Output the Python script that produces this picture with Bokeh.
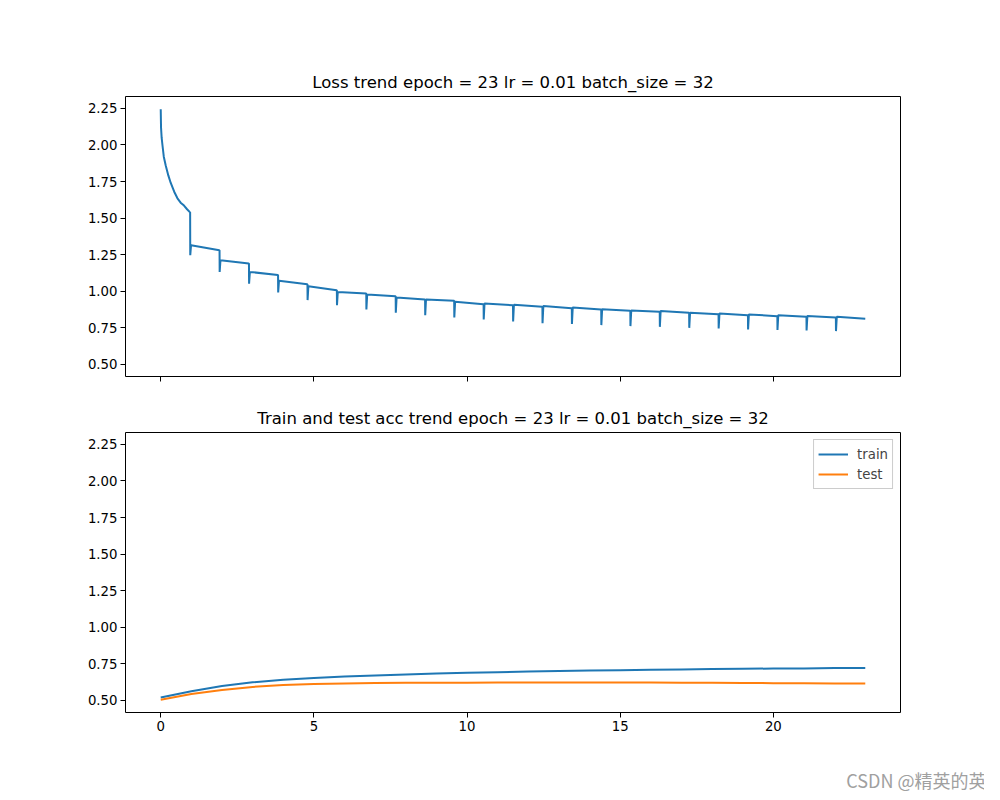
from bokeh.plotting import figure
from bokeh.layouts import column
from bokeh.models import (Range1d, FixedTicker, PrintfTickFormatter, CustomJSTickFormatter,
                          Title, Legend, LegendItem)
from bokeh.embed import file_html
from bokeh.resources import INLINE

# ---------------- data ----------------
# first epoch of the loss curve (x in "epoch" units, as drawn)
first_x = [0.0, 0.01, 0.03, 0.056, 0.1, 0.163, 0.25, 0.327, 0.44, 0.546, 0.65, 0.76, 0.86, 0.95]
first_y = [2.245, 2.12, 2.05, 2.0, 1.92, 1.86, 1.79, 1.74, 1.68, 1.635, 1.605, 1.585, 1.56, 1.54]

# start of every later epoch segment
epoch_x = [0.96, 1.92, 2.88, 3.83, 4.79, 5.75, 6.71, 7.67, 8.63, 9.58, 10.54, 11.50,
           12.46, 13.42, 14.38, 15.33, 16.29, 17.25, 18.21, 19.17, 20.13, 21.08, 22.04]
# dip at the start of each segment
loss_dip = [1.245, 1.131, 1.05, 0.99, 0.938, 0.903, 0.874, 0.851, 0.835, 0.819, 0.806, 0.792,
            0.78, 0.774, 0.767, 0.76, 0.755, 0.748, 0.744, 0.737, 0.733, 0.73, 0.726]
# value right after the dip
loss_peak = [1.314, 1.211, 1.131, 1.07, 1.033, 0.994, 0.977, 0.956, 0.942, 0.926, 0.915, 0.906,
             0.897, 0.888, 0.876, 0.867, 0.864, 0.851, 0.847, 0.84, 0.835, 0.83, 0.824]
# value at the end of each segment
loss_end = [1.28, 1.189, 1.11, 1.047, 1.006, 0.983, 0.965, 0.942, 0.933, 0.91, 0.903, 0.892,
            0.883, 0.874, 0.865, 0.858, 0.851, 0.842, 0.835, 0.828, 0.824, 0.819, 0.81]
last_x = 23.0

acc_epochs = list(range(24))
train_acc = [0.518, 0.561, 0.597, 0.622, 0.639, 0.652, 0.661, 0.669, 0.676, 0.682, 0.687, 0.691,
             0.695, 0.699, 0.702, 0.705, 0.708, 0.710, 0.712, 0.714, 0.716, 0.717, 0.719, 0.720]
test_acc = [0.502, 0.541, 0.569, 0.590, 0.603, 0.610, 0.614, 0.617, 0.618, 0.619, 0.619, 0.620,
            0.620, 0.621, 0.621, 0.620, 0.620, 0.619, 0.618, 0.617, 0.616, 0.615, 0.614, 0.613]

y_ticks = [0.5, 0.75, 1.0, 1.25, 1.5, 1.75, 2.0, 2.25]
x_ticks = [0, 5, 10, 15, 20]

title_top = "Loss trend epoch = 23 lr = 0.01 batch_size = 32"
title_bottom = "Train and test acc trend epoch = 23 lr = 0.01 batch_size = 32"
watermark = "CSDN @精英的英"

# build the loss polyline
loss_x = list(first_x)
loss_y = list(first_y)
for i, b in enumerate(epoch_x):
    nxt = epoch_x[i + 1] if i + 1 < len(epoch_x) else last_x
    prev = loss_y[-1]
    loss_x += [b, b + 0.004, b + 0.03, nxt - (0.005 if i + 1 < len(epoch_x) else 0.0)]
    loss_y += [prev, loss_dip[i], loss_peak[i], loss_end[i]]

BLUE = "#1f77b4"
ORANGE = "#ff7f0e"
FONT = "DejaVu Sans"

x_range = Range1d(-1.15, 24.15)
y_range = Range1d(0.415, 2.332)


def style(p, show_xlabels=True):
    p.title.text_font = FONT
    p.title.text_font_size = "16.5px"
    p.title.text_font_style = "normal"
    p.title.align = "center"
    p.title.text_color = "black"
    p.outline_line_color = "black"
    p.outline_line_alpha = 1.0
    p.outline_line_width = 1
    p.xgrid.visible = False
    p.ygrid.visible = False
    for ax in (p.xaxis[0], p.yaxis[0]):
        ax.axis_line_color = None
        ax.major_tick_in = 0
        ax.major_tick_out = 5
        ax.major_tick_line_color = "black"
        ax.minor_tick_line_color = None
        ax.major_label_text_font = FONT
        ax.major_label_text_font_size = "13.3px"
        ax.major_label_text_color = "black"
        ax.major_label_standoff = 3
    p.yaxis[0].ticker = FixedTicker(ticks=y_ticks)
    p.yaxis[0].formatter = PrintfTickFormatter(format="%.2f")
    p.xaxis[0].ticker = FixedTicker(ticks=x_ticks)
    if not show_xlabels:
        p.xaxis[0].formatter = CustomJSTickFormatter(code="return ''")
        p.xaxis[0].major_label_text_font_size = "0px"
        p.xaxis[0].major_label_standoff = 0


p1 = figure(width=984, height=392, x_range=x_range, y_range=y_range,
            output_backend="svg", toolbar_location=None, title=title_top,
            min_border_left=125, min_border_right=84, min_border_top=96, min_border_bottom=16)
p1.line(loss_x, loss_y, line_color=BLUE, line_width=2)
style(p1, show_xlabels=False)

p2 = figure(width=984, height=356, x_range=x_range, y_range=y_range,
            output_backend="svg", toolbar_location=None, title=title_bottom,
            min_border_left=125, min_border_right=84, min_border_top=40, min_border_bottom=36)
r_train = p2.line(acc_epochs, train_acc, line_color=BLUE, line_width=2)
r_test = p2.line(acc_epochs, test_acc, line_color=ORANGE, line_width=2)
style(p2)

legend = Legend(items=[LegendItem(label="train", renderers=[r_train]),
                       LegendItem(label="test", renderers=[r_test])],
                location="top_right")
legend.label_text_font = FONT
legend.label_text_font_size = "13.3px"
legend.glyph_width = 30
legend.glyph_height = 20
legend.label_height = 20
legend.label_standoff = 9
legend.spacing = 0
legend.padding = 4
legend.margin = 7
legend.border_line_color = "#cccccc"
legend.border_line_alpha = 1.0
legend.background_fill_alpha = 0.8
p2.add_layout(legend)

# footer strip carrying the watermark
p3 = figure(width=984, height=44, output_backend="svg", toolbar_location=None,
            x_axis_type=None, y_axis_type=None, min_border=0)
p3.outline_line_color = None
p3.xgrid.visible = False
p3.ygrid.visible = False
wm = Title(text=watermark, align="right", offset=-86, standoff=0,
           text_color="#a0a0a0", text_font_size="18px", text_font="Noto Sans CJK SC",
           text_font_style="normal")
p3.add_layout(wm, "below")

layout = column(p1, p2, p3, spacing=0)
open("out.html", "w").write(file_html(layout, INLINE))
